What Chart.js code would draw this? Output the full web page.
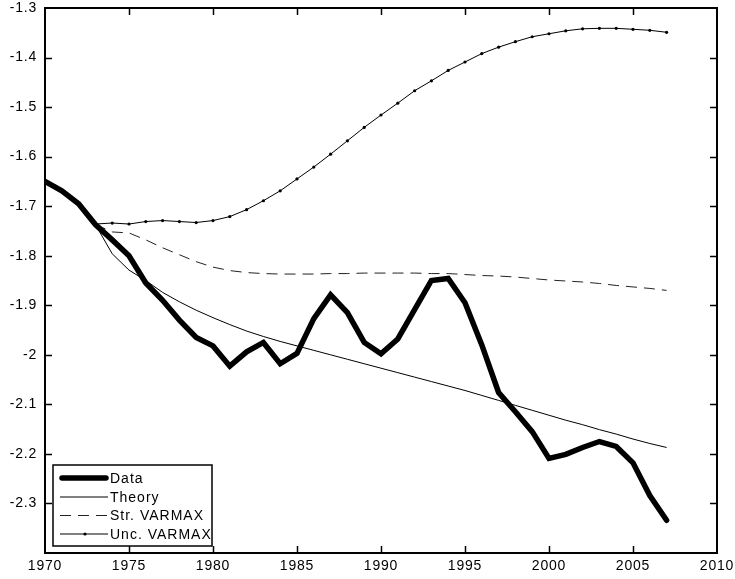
<!DOCTYPE html>
<html>
<head>
<meta charset="utf-8">
<script src="https://cdn.jsdelivr.net/npm/chart.js@4.4.1/dist/chart.umd.min.js"></script>
<style>
html,body{margin:0;padding:0;background:#fff;}
#wrap{width:735px;height:579px;position:relative;}
</style>
</head>
<body>
<div id="wrap"><canvas id="c" width="735" height="579"></canvas></div>
<script>
const years = [1970,1971,1972,1973,1974,1975,1976,1977,1978,1979,1980,1981,1982,1983,1984,1985,1986,1987,1988,1989,1990,1991,1992,1993,1994,1995,1996,1997,1998,1999,2000,2001,2002,2003,2004,2005,2006,2007];
const forecastYears = years.slice(3); // 1973-2007

const dataSeries = [-1.650,-1.669,-1.695,-1.737,-1.768,-1.800,-1.855,-1.890,-1.930,-1.965,-1.982,-2.023,-1.994,-1.975,-2.018,-1.997,-1.927,-1.879,-1.915,-1.975,-1.998,-1.968,-1.909,-1.850,-1.846,-1.895,-1.980,-2.076,-2.115,-2.155,-2.209,-2.201,-2.187,-2.175,-2.185,-2.218,-2.284,-2.334];

const theorySeries = [-1.737,-1.796,-1.829,-1.850,-1.874,-1.893,-1.910,-1.925,-1.939,-1.952,-1.963,-1.973,-1.982,-1.991,-2.000,-2.009,-2.018,-2.027,-2.036,-2.045,-2.054,-2.063,-2.072,-2.082,-2.092,-2.102,-2.112,-2.122,-2.132,-2.141,-2.151,-2.160,-2.170,-2.179,-2.187];

const strVarmax = [-1.737,-1.752,-1.754,-1.768,-1.784,-1.798,-1.812,-1.823,-1.830,-1.834,-1.836,-1.837,-1.837,-1.837,-1.836,-1.836,-1.835,-1.835,-1.835,-1.835,-1.836,-1.836,-1.838,-1.840,-1.841,-1.843,-1.846,-1.849,-1.851,-1.853,-1.856,-1.860,-1.863,-1.866,-1.870];

const uncVarmax = [-1.736,-1.734,-1.736,-1.731,-1.729,-1.731,-1.733,-1.729,-1.721,-1.707,-1.689,-1.669,-1.645,-1.621,-1.595,-1.568,-1.541,-1.516,-1.492,-1.467,-1.447,-1.426,-1.409,-1.392,-1.379,-1.368,-1.358,-1.352,-1.346,-1.342,-1.341,-1.341,-1.343,-1.345,-1.349];

const xTicks = [1970,1975,1980,1985,1990,1995,2000,2005,2010];
const yTicks = [-1.3,-1.4,-1.5,-1.6,-1.7,-1.8,-1.9,-2.0,-2.1,-2.2,-2.3];
const seriesLabels = ['Data','Theory','Str. VARMAX','Unc. VARMAX'];

function pts(xs, ys){ return xs.map((x,i)=>({x:x,y:ys[i]})); }

const FONT = '14px "Liberation Sans", Arial, sans-serif';

const spacingPlugin = {
  id:'spacing',
  beforeDraw(chart){ try{ chart.ctx.letterSpacing='0.8px'; }catch(e){} },
  afterDatasetsDraw(chart){ try{ chart.ctx.letterSpacing='0px'; }catch(e){} }
};

const framePlugin = {
  id:'frame',
  afterDraw(chart){
    const ctx = chart.ctx, a = chart.chartArea;
    const xs = chart.scales.x, ys = chart.scales.y;
    ctx.save();
    ctx.strokeStyle = '#000';
    ctx.lineWidth = 1.5;
    ctx.beginPath();
    const tl = 7;
    xTicks.forEach(t=>{
      if(t===xTicks[0]||t===xTicks[xTicks.length-1]) return;
      const px = Math.round(xs.getPixelForValue(t))+0.5;
      ctx.moveTo(px,a.bottom); ctx.lineTo(px,a.bottom-tl);
      ctx.moveTo(px,a.top); ctx.lineTo(px,a.top+tl);
    });
    yTicks.forEach(t=>{
      if(t===yTicks[0]) return;
      const py = Math.round(ys.getPixelForValue(t))+0.5;
      ctx.moveTo(a.left,py); ctx.lineTo(a.left+tl,py);
      ctx.moveTo(a.right,py); ctx.lineTo(a.right-tl,py);
    });
    ctx.stroke();
    ctx.lineWidth = 2;
    ctx.strokeRect(a.left, a.top, a.right-a.left, a.bottom-a.top);

    // legend box
    const bx=53, by=465, bw=159, bh=81;
    ctx.fillStyle='#fff';
    ctx.fillRect(bx,by,bw,bh);
    ctx.lineWidth=1.5;
    ctx.strokeRect(bx,by,bw,bh);
    const rows=[478,497,515.5,534];
    ctx.font = FONT;
    ctx.textBaseline='middle';
    ctx.textAlign='left';
    try{ ctx.letterSpacing='1px'; }catch(e){}
    chart.data.datasets.forEach((ds,i)=>{
      const y=rows[i];
      ctx.save();
      ctx.strokeStyle=ds.borderColor;
      ctx.lineWidth=ds.borderWidth;
      ctx.lineCap = ds.borderCapStyle||'butt';
      ctx.setLineDash(ds.borderDash||[]);
      ctx.beginPath();
      const x0 = i===0?62:60, x1 = i===0?106:108;
      ctx.moveTo(x0,y); ctx.lineTo(x1,y); ctx.stroke();
      if(ds.pointRadius>0){
        ctx.fillStyle='#000';
        ctx.beginPath(); ctx.arc(85,y,1.6,0,Math.PI*2); ctx.fill();
      }
      ctx.restore();
      ctx.fillStyle='#000';
      ctx.fillText(ds.label,110,y+1);
    });
    ctx.restore();
  }
};

new Chart(document.getElementById('c'),{
  type:'line',
  data:{
    datasets:[
      {label:seriesLabels[0], data:pts(years,dataSeries), borderColor:'#000', borderWidth:5.5, pointRadius:0, borderCapStyle:'round', borderJoinStyle:'miter', tension:0},
      {label:seriesLabels[1], data:pts(forecastYears,theorySeries), borderColor:'#000', borderWidth:1, pointRadius:0, tension:0},
      {label:seriesLabels[2], data:pts(forecastYears,strVarmax), borderColor:'#222', borderWidth:1, borderDash:[11,7], pointRadius:0, tension:0},
      {label:seriesLabels[3], data:pts(forecastYears,uncVarmax), borderColor:'#000', borderWidth:1, pointRadius:1.6, pointBackgroundColor:'#000', pointBorderWidth:0, pointHoverRadius:0, tension:0}
    ]
  },
  options:{
    responsive:false,
    animation:false,
    events:[],
    layout:{padding:{top:8,right:18,left:0,bottom:0}},
    plugins:{legend:{display:false}, tooltip:{enabled:false}},
    scales:{
      x:{type:'linear', min:1970, max:2010,
        afterFit(s){ s.height = 26; s.paddingLeft = 0; s.paddingRight = 0; },
        afterBuildTicks(s){ s.ticks = xTicks.map(v=>({value:v})); },
        grid:{display:false, drawTicks:false},
        border:{display:false},
        ticks:{color:'#000', font:{family:'"Liberation Sans", Arial, sans-serif', size:14}, padding:5, maxRotation:0, callback:v=>String(v)}
      },
      y:{type:'linear', min:-2.4, max:-1.3,
        afterFit(s){ s.width = 45; s.paddingTop = 0; s.paddingBottom = 0; },
        afterBuildTicks(s){ s.ticks = yTicks.map(v=>({value:v})); },
        grid:{display:false, drawTicks:false},
        border:{display:false},
        ticks:{color:'#000', font:{family:'"Liberation Sans", Arial, sans-serif', size:14}, padding:8, callback:v=>String(Math.round(v*10)/10)}
      }
    }
  },
  plugins:[spacingPlugin, framePlugin]
});
</script>
</body>
</html>
